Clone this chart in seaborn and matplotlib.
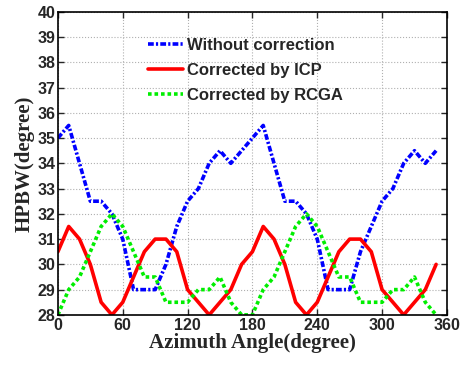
import pandas as pd
import numpy as np
import matplotlib
matplotlib.use("Agg")
import matplotlib.pyplot as plt
import seaborn as sns

# azimuth angles (degree), one sample every 10 degrees
angle = list(range(0, 360, 10))

# HPBW (degree)
without_corr = [35, 35.5, 34, 32.5, 32.5, 32, 31, 29, 29, 29, 30, 31.5, 32.5, 33, 34, 34.5, 34, 34.5,
                35, 35.5, 34, 32.5, 32.5, 32, 31, 29, 29, 29, 30.5, 31.5, 32.5, 33, 34, 34.5, 34, 34.5]
icp = [30.5, 31.5, 31, 30, 28.5, 28, 28.5, 29.5, 30.5, 31, 31, 30.5, 29, 28.5, 28, 28.5, 29, 30,
       30.5, 31.5, 31, 30, 28.5, 28, 28.5, 29.5, 30.5, 31, 31, 30.5, 29, 28.5, 28, 28.5, 29, 30]
rcga = [28, 29, 29.5, 30.5, 31.5, 32, 31.5, 30.5, 29.5, 29.5, 28.5, 28.5, 28.5, 29, 29, 29.5, 28.5, 28,
        28, 29, 29.5, 30.5, 31.5, 32, 31.5, 30.5, 29.5, 29.5, 28.5, 28.5, 28.5, 29, 29, 29.5, 28.5, 28]

names = ["Without correction", "Corrected by ICP", "Corrected by RCGA"]

df = pd.DataFrame({
    "angle": angle * 3,
    "hpbw": without_corr + icp + rcga,
    "method": np.repeat(names, len(angle)),
})

sns.set_style("ticks")
fig = plt.figure(figsize=(4.67, 3.67), dpi=100)
ax = fig.add_axes([0.124, 0.142, 0.833, 0.826])

palette = {names[0]: "#0000ff", names[1]: "#ff0000", names[2]: "#00ee00"}
dashes = {names[0]: (1.6, 0.6, 0.6, 0.6), names[1]: "", names[2]: (1, 0.8)}

sns.lineplot(data=df, x="angle", y="hpbw", hue="method", style="method",
             palette=palette, dashes=dashes, linewidth=2.6, legend=False, ax=ax)

ax.set_xlim(0, 360)
ax.set_ylim(28, 40)
ax.set_xticks(range(0, 361, 60))
ax.set_yticks(range(28, 41, 1))
ax.grid(True, color="#b0b0b0", linestyle=":", linewidth=0.8)
ax.tick_params(direction="in", top=True, right=True, length=4, width=1, pad=2)
for lbl in ax.get_xticklabels() + ax.get_yticklabels():
    lbl.set_fontfamily("Liberation Sans")
    lbl.set_fontweight("bold")
    lbl.set_fontsize(11.5)
for s in ax.spines.values():
    s.set_linewidth(1.2)
    s.set_color("black")

ax.set_xlabel("Azimuth Angle(degree)", family="Liberation Serif", fontweight="bold",
              fontsize=15, labelpad=0)
ax.set_ylabel("HPBW(degree)", family="Liberation Serif", fontweight="bold",
              fontsize=15, labelpad=2)

ax.legend(handles=ax.lines[:3], labels=names, loc="upper left", bbox_to_anchor=(0.231, 0.915),
          frameon=False, borderaxespad=0, borderpad=0, handlelength=2.1, handletextpad=0.25,
          labelspacing=0.62, prop={"family": "Liberation Sans", "weight": "bold", "size": 12})

fig.savefig("out.png", dpi=100)
